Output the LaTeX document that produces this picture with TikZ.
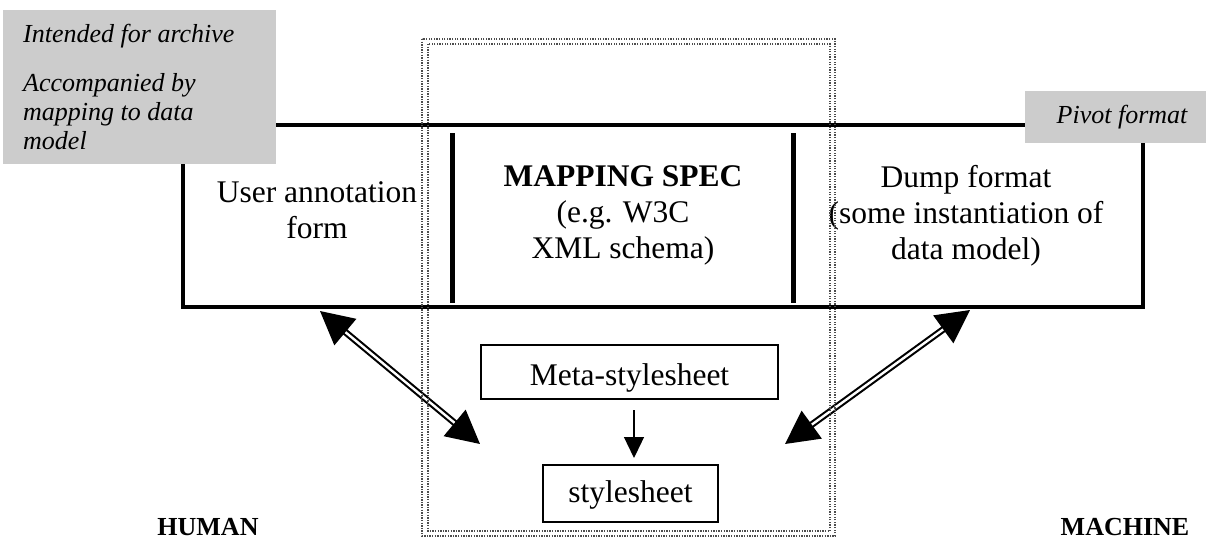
\documentclass[tikz,border=0pt]{standalone}
\usepackage{fontspec}
\setmainfont{Liberation Serif}
\usetikzlibrary{arrows.meta}
\tikzset{
  bigtext/.style={font=\fontsize{31.5}{36}\selectfont, align=center, inner sep=0pt},
  smalltext/.style={font=\fontsize{26}{29}\selectfont, inner sep=0pt},
  graybox/.style={fill=black!20, draw=none, inner sep=0pt, outer sep=0pt, anchor=north west},
  mainbox/.style={draw, line width=4.5pt, inner sep=0pt, outer sep=0pt, anchor=north west},
  plainbox/.style={draw, line width=1.5pt, inner sep=0pt, outer sep=0pt, font=\fontsize{31.5}{36}\selectfont},
  divider/.style={line width=5pt},
  dblarrow/.style={double, double distance=2.4pt, line width=2.1pt,
    {Triangle[length=33pt,width=34pt]}-{Triangle[length=33pt,width=34pt]}},
  thinarrow/.style={line width=1.3pt, -{Triangle[length=21pt,width=20pt]}},
  dotline/.style={black!70, line width=1.3pt, dash pattern=on 1.3pt off 1.3pt},
}
\begin{document}
\begin{tikzpicture}[x=1pt,y=-1pt]
\useasboundingbox (0,0) rectangle (1207,539);
% main pivot rectangle
\node[mainbox, minimum width=960pt, minimum height=182pt] (main) at (183,125) {};
\draw[divider] (452,133) coordinate (d1top) -- (452,303) coordinate (d1bot);
\draw[divider] (793,133) coordinate (d2top) -- (793,303) coordinate (d2bot);
% gray notes
\node[graybox, minimum width=273pt, minimum height=154pt] (archive) at (3,10) {};
\node[smalltext, anchor=base west, font=\fontsize{26}{29}\selectfont\itshape] (intended) at (23,42) {Intended for archive};
\node[smalltext, anchor=north west, align=left, font=\fontsize{26}{29}\selectfont\itshape] (accomp) at (23,73.2) {Accompanied by\\mapping to data\\model};
\node[graybox, minimum width=181pt, minimum height=52pt] (pivot) at (1025,91) {};
\node[smalltext, anchor=base, font=\fontsize{26}{29}\selectfont\itshape] (pivottext) at (1122,123) {Pivot format};
% column texts
\node[bigtext] (user) at (317,210.5) {User annotation\\form};
\node[bigtext] (mapspec) at (623,215.2) {\textbf{MAPPING SPEC}\\(e.g. W3C\\XML schema)};
\node[bigtext] (dump) at (966,216) {Dump format\\(some instantiation of\\data model)};
% stylesheet boxes
\node[plainbox, minimum width=297pt, text height=40pt, text depth=14pt] (meta) at (629.5,372) {Meta-stylesheet};
\node[plainbox, minimum width=175pt, text height=37pt, text depth=20pt] (style) at (630.5,493.5) {stylesheet};
\draw[thinarrow, shorten <=11pt, shorten >=7pt] (meta.south -| 634,0) -- (style.north -| 634,0);
% double arrows
\coordinate (hl1) at (320,311);
\coordinate (hl2) at (480,444);
\coordinate (ml1) at (970,310);
\coordinate (ml2) at (785,444);
\draw[dblarrow] (hl1) -- (hl2);
\draw[dblarrow] (ml1) -- (ml2);
% labels
\node[smalltext, anchor=base, font=\fontsize{26}{29}\selectfont\bfseries] (human) at (208,535) {HUMAN};
\node[smalltext, anchor=base, font=\fontsize{26}{29}\selectfont\bfseries] (machine) at (1125,535) {MACHINE};
% dotted double frame
\draw[dotline] (422,39) rectangle (835,536);
\draw[dotline] (428,44) rectangle (830,531);
\end{tikzpicture}
\end{document}
